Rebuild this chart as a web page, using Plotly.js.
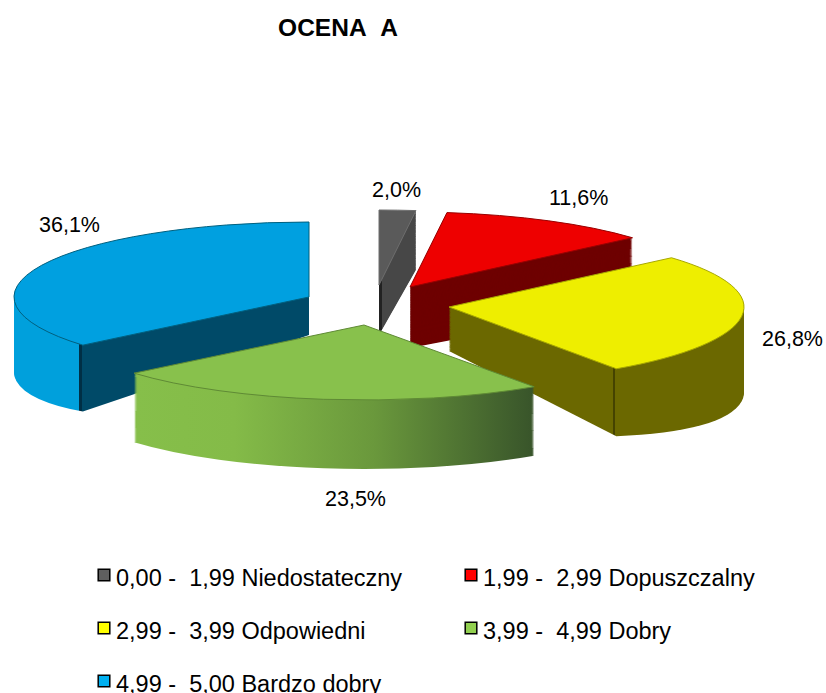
<!DOCTYPE html>
<html><head><meta charset="utf-8">
<script src="https://cdn.plot.ly/plotly-3.0.1.min.js"></script>
<style>html,body{margin:0;padding:0;background:#fff;overflow:hidden}</style>
</head><body><div id="chart" style="width:826px;height:693px"></div>
<script>
// ---- data ----
const categories = [
  "0,00 -\u00a0\u00a01,99 Niedostateczny",
  "1,99 -\u00a0\u00a02,99 Dopuszczalny",
  "2,99 -\u00a0\u00a03,99 Odpowiedni",
  "3,99 -\u00a0\u00a04,99 Dobry",
  "4,99 -\u00a0\u00a05,00 Bardzo dobry"
];
const values = [2.0, 11.6, 26.8, 23.5, 36.1];
const chartTitle = "OCENA\u00a0\u00a0A";

// ---- styles ----
const faceColors   = ["#5a5a5a", "#ee0000", "#eeee00", "#88c14c", "#00a0e0"];
const edgeColors   = ["#6e6e6e", "#990000", "#a8a800", "#5f8a35", "#00607f"];
const wallColors   = ["#474747", "#6e0000", "#6b6800", "#86bf4a", "#004a68"];
const legendColors = ["#5f5f5f", "#ff0000", "#ffff00", "#92d050", "#00b0f0"];
const FONT = "Liberation Sans, Arial, sans-serif";
const W = 826, H = 693, LEVELS = 70, RY = 75, PULL = 0.245;
// 3-D projection of each slice: apex of its top face, horizontal radius, wall depth at the apex, depth change per px of x
const apexX = [379, 410, 449, 364, 309];
const apexY = [285, 287, 307, 325, 297];
const radiusX = [295, 295, 295, 300, 295];
const depth = [50, 61, 44, 69, 38];
const depthSlope = [0.25, 0.03, 0.14, 0, -0.125];
const labelX = [396, 578, 792, 355, 69];
const labelY = [190, 198, 339, 499, 225];
const legendX = [97, 464, 97, 464, 97];
const legendBase = [586, 586, 639, 639, 692];

function pieTrace(colors, top) {
  return {
    type: "pie", labels: categories, values: values, sort: false,
    direction: "clockwise", rotation: 0, pull: values.map(() => PULL),
    textinfo: "none", hoverinfo: top ? "label+percent" : "skip",
    showlegend: top,
    marker: { colors: colors, line: { color: top ? edgeColors : colors, width: top ? 1 : 0 } },
    domain: { x: [0, 1], y: [0, 1] }
  };
}
const traces = [];
for (let l = LEVELS; l >= 1; l--) traces.push(pieTrace(wallColors, false));
traces.push(pieTrace(faceColors, true));

const layout = {
  width: W, height: H, margin: { l: 0, r: 0, t: 0, b: 0 },
  paper_bgcolor: "#fff", font: { family: FONT, color: "#000" },
  title: { text: chartTitle, x: 338 / W, xanchor: "center", y: 1 - 27 / H, yanchor: "middle",
           font: { family: FONT, size: 24.5, color: "#000", weight: 700 } },
  legend: { x: 0, y: 1, xanchor: "left", yanchor: "top", bgcolor: "rgba(0,0,0,0)",
            font: { family: FONT, size: 23.5, color: "#000" }, itemclick: false, itemdoubleclick: false },
  annotations: values.map((v, i) => ({
    text: v.toFixed(1).replace(".", ",") + "%", showarrow: false,
    xref: "paper", yref: "paper", x: labelX[i] / W, y: 1 - labelY[i] / H,
    xanchor: "center", yanchor: "middle", font: { family: FONT, size: 21.5, color: "#000" }
  }))
};

function addGradient(svg, id, stops) {
  const NS = "http://www.w3.org/2000/svg";
  let defs = svg.querySelector("defs");
  const g = document.createElementNS(NS, "linearGradient");
  g.setAttribute("id", id);
  stops.forEach(s => {
    const st = document.createElementNS(NS, "stop");
    st.setAttribute("offset", s[0]); st.setAttribute("stop-color", s[1]);
    g.appendChild(st);
  });
  defs.appendChild(g);
}

Plotly.newPlot("chart", traces, layout, { displayModeBar: false, staticPlot: false }).then(gd => {
  const svg = gd.querySelector(".main-svg");
  addGradient(svg, "wallGreen", [[0, "#86bf4a"], [0.25, "#84bb48"], [0.6, "#6a983c"], [1, "#38542a"]]);
  addGradient(svg, "wallBlue", [[0, "#00a0dc"], [0.222, "#00a0dc"], [0.222, "#002f45"], [0.232, "#002f45"], [0.232, "#004a68"], [1, "#004a68"]]);
  addGradient(svg, "wallYellow", [[0, "#6b6800"], [0.555, "#6b6800"], [0.555, "#454300"], [0.563, "#454300"], [0.563, "#6b6800"], [1, "#6b6800"]]);
  addGradient(svg, "wallGray", [[0, "#222222"], [0.09, "#222222"], [0.09, "#474747"], [1, "#474747"]]);
  const wallFill = { 0: "url(#wallGray)", 2: "url(#wallYellow)", 3: "url(#wallGreen)", 4: "url(#wallBlue)" };

  const r = gd.calcdata[0][0].r;
  const sy = RY / r;
  const groups = gd.querySelectorAll(".pielayer .trace");
  groups.forEach((grp, ti) => {
    const t = (LEVELS - ti) / LEVELS;
    grp.querySelectorAll(".slice path.surface").forEach((p, i) => {
      const m = /^M\s*(-?[\d.]+)[ ,](-?[\d.]+)/.exec(p.getAttribute("d"));
      const px = +m[1], py = +m[2];
      const sx = radiusX[i] / r;
      p.setAttribute("transform",
        "matrix(" + sx + "," + (t * depthSlope[i] * sx) + ",0," + sy + "," + apexX[i] + "," + (apexY[i] + t * depth[i]) + ")" +
        " translate(" + (-px) + "," + (-py) + ")");
      p.style.vectorEffect = "non-scaling-stroke";
      if (t > 0 && wallFill[i]) p.style.fill = wallFill[i];
    });
  });

  // legend rows placed on a wide two-column grid
  const sb = gd.querySelector(".legend .scrollbox");
  if (sb) sb.removeAttribute("clip-path");
  gd.querySelectorAll(".legend .traces").forEach((g, i) => {
    g.setAttribute("transform", "translate(" + legendX[i] + "," + legendBase[i] + ")");
    const tx = g.querySelector("text.legendtext");
    tx.setAttribute("x", 19); tx.setAttribute("y", 0);
    tx.style.textAnchor = "start";
    const sw = g.querySelector("path.legendpie");
    let n = sw.parentNode;
    while (n !== g) { n.removeAttribute("transform"); n = n.parentNode; }
    sw.setAttribute("transform", "translate(7,-11)");
    sw.style.fill = legendColors[i];
    sw.style.stroke = "#000";
    sw.style.strokeWidth = "1.5px";
    sw.setAttribute("d", "M5.8,5.8H-5.8V-5.8H5.8Z");
  });
});
</script></body></html>
